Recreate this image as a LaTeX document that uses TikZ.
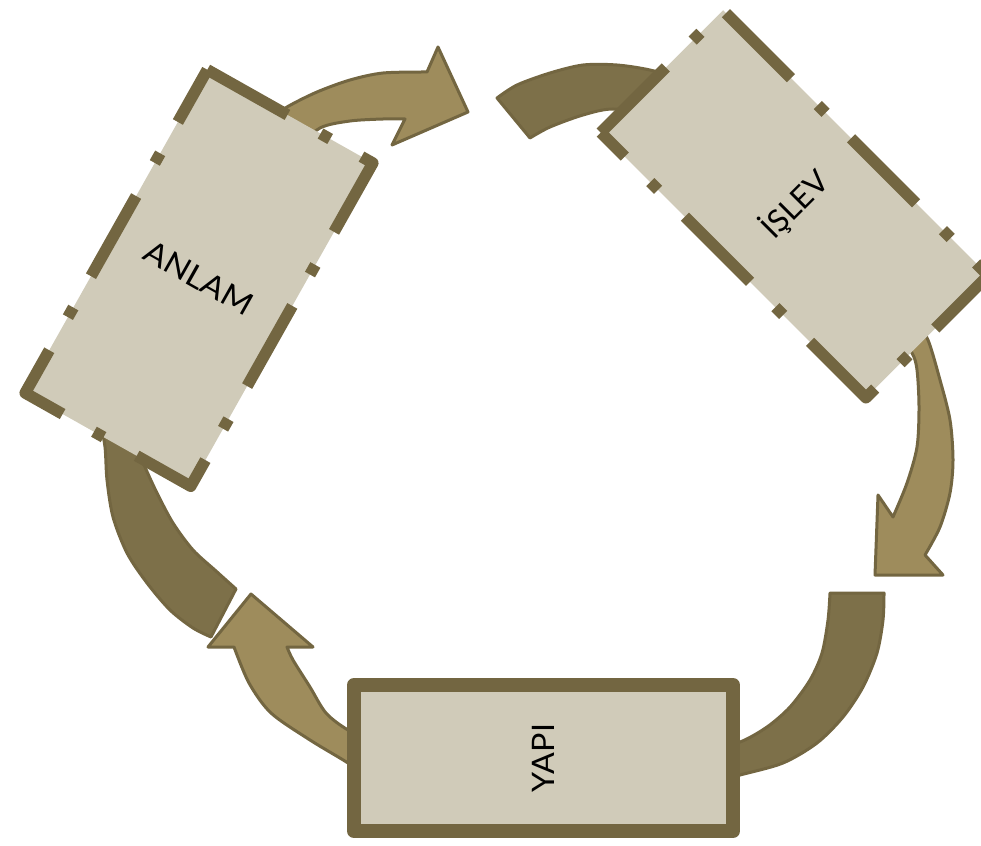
\documentclass[tikz,border=0pt]{standalone}
\usepackage{fontspec}
\setmainfont{Lato}
\definecolor{lightc}{HTML}{9E8C5C}
\definecolor{darkc}{HTML}{7D7049}
\definecolor{edgec}{HTML}{736641}
\definecolor{boxc}{HTML}{D0CBB9}
\tikzset{
  lightarrow/.style={fill=lightc, draw=edgec, line width=3pt, line join=round},
  darkband/.style={fill=darkc, draw=edgec, line width=3pt, line join=round},
  boxfill/.style={fill=boxc, inner sep=0pt, outer sep=0pt, font=\fontsize{31pt}{34pt}\selectfont},
  dashborder/.style={draw=edgec, line width=11.5pt, line join=round,
    dash pattern=on 92pt off 38pt on 11pt off 36pt},
  solidbox/.style={boxfill, draw=edgec, line width=14pt, line join=round},
}
\begin{document}
\begin{tikzpicture}[x=1pt,y=-1pt]
\useasboundingbox (0,0) rectangle (981,845);
% dark bands (incoming)
\path[darkband] plot[smooth] coordinates {(497,98) (517,85) (550,73) (583,65) (617,65) (650,70) (685,80)}
  -- plot[smooth] coordinates {(655,115) (613,109) (583,115) (550,127) (530,138)} -- cycle;
\path[darkband] plot[smooth] coordinates {(884,593) (883,620) (877,653) (863,687) (843,717) (817,743) (783,763) (740,775) (710,783)}
  -- plot[smooth] coordinates {(710,748) (740,742) (767,727) (790,707) (810,680) (822,653) (828,620) (830,593)} -- cycle;
\path[darkband] plot[smooth] coordinates {(100,420) (105,447) (107,480) (113,517) (127,553) (147,583) (170,610) (193,628) (211,637)}
  -- (236,589)
  -- plot[smooth] coordinates {(236,589) (216,571) (193,550) (173,523) (157,493) (145,467) (140,453) (135,425)} -- cycle;
% light arrows (outgoing)
\path[lightarrow] plot[smooth] coordinates {(260,125) (287,107) (317,92) (350,80) (383,73) (427,72)}
  -- (438,47) -- (468,112) -- (392,145) -- (405,119)
  -- plot[smooth] coordinates {(405,119) (383,119) (350,121) (320,128) (295,150)} -- cycle;
\path[lightarrow] plot[smooth] coordinates {(915,320) (928,340) (940,380) (950,420) (953,460) (950,493) (940,527) (925,555)}
  -- (943,575) -- (875,575) -- (878,495) -- (893,517)
  -- plot[smooth] coordinates {(893,517) (907,483) (917,447) (919,407) (917,370) (912,353) (895,330)} -- cycle;
\path[lightarrow] plot[smooth] coordinates {(380,785) (348,763) (310,740) (271,713) (249,683) (234,647)}
  -- (208,647) -- (251,594) -- (313,647) -- (287,647)
  -- plot[smooth] coordinates {(287,647) (293,660) (310,687) (326,713) (348,730) (380,745)} -- cycle;
% boxes
\node[boxfill, rotate=-29.4, minimum width=190pt, minimum height=371pt] (anlam) at (199,278) {\scalebox{1.08}[1]{ANLAM}};
\draw[dashborder] (anlam.north west) -- (anlam.north east) -- (anlam.south east) -- (anlam.south west) -- cycle;
\node[boxfill, rotate=45, minimum width=173pt, minimum height=375pt] (islev) at (794.5,204) {İŞLEV};
\draw[dashborder] (islev.north west) -- (islev.north east) -- (islev.south east) -- (islev.south west) -- cycle;
\node[solidbox, rotate=90, minimum width=146pt, minimum height=379pt] (yapi) at (543.5,758) {\scalebox{1.04}[1]{YAPI}};
\end{tikzpicture}
\end{document}
